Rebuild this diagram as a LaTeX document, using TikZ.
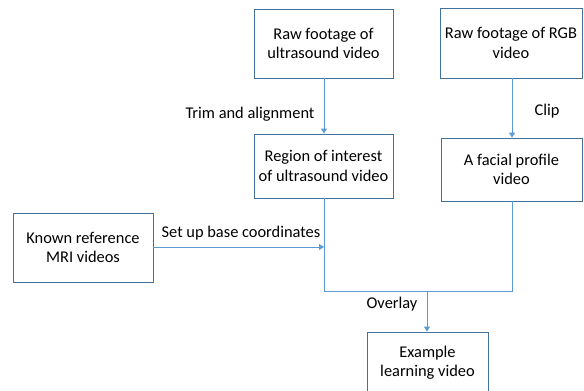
\documentclass[tikz,border=0pt]{standalone}
\usepackage{fontspec}
\setmainfont{Carlito}
\usetikzlibrary{arrows.meta}
\definecolor{boxline}{HTML}{41719C}
\definecolor{arrline}{HTML}{5B9BD5}
\begin{document}
\begin{tikzpicture}[x=1pt,y=-1pt,
  box/.style={draw=boxline, line width=0.9pt, inner sep=0pt, align=center,
    font=\fontsize{16.4}{19.3}\selectfont},
  conn/.style={draw=arrline, line width=0.9pt},
  arr/.style={conn, -{Triangle[width=6pt,length=5pt]}},
  lbl/.style={font=\fontsize{16.4}{19.3}\selectfont, inner sep=0pt}]
\useasboundingbox (0,0) rectangle (584,391);
\clip (0,0) rectangle (584,391);
\node[box, minimum width=139pt, minimum height=69pt] (b1) at (323.5,43.5) {Raw footage of\\ultrasound video};
\node[box, minimum width=142pt, minimum height=70pt] (b2) at (511,43) {Raw footage of RGB\\video};
\node[box, minimum width=139pt, minimum height=64pt] (b3) at (323.5,166) {Region of interest\\of ultrasound video};
\node[box, minimum width=141pt, minimum height=63pt] (b4) at (511.5,169.5) {A facial profile\\video};
\node[box, minimum width=140pt, minimum height=69pt] (b0) at (83,247.5) {Known reference\\MRI videos};
\node[box, minimum width=121pt, minimum height=62pt] (b5) at (427.5,363) {Example\\learning video};
\coordinate (jl) at (324,291);
\coordinate (jr) at (512,291);
\coordinate (jm) at (427,291);
\coordinate (ja) at (324,247);
\draw[arr] (b1.south -| jl) -- (b3.north -| jl);
\draw[arr] (b2.south -| jr) -- (b4.north -| jr);
\draw[arr] (b0.east |- ja) -- (ja);
\draw[conn] (b3.south -| jl) -- (jl) -- (jr) -- (b4.south -| jr);
\draw[arr] (jm) -- (b5.north -| jm);
\node[lbl] (l1) at (250,114) {Trim and alignment};
\node[lbl] (l2) at (547,111) {Clip};
\node[lbl] (l3) at (241,233) {Set up base coordinates};
\node[lbl] (l4) at (392,304) {Overlay};
\end{tikzpicture}
\end{document}
